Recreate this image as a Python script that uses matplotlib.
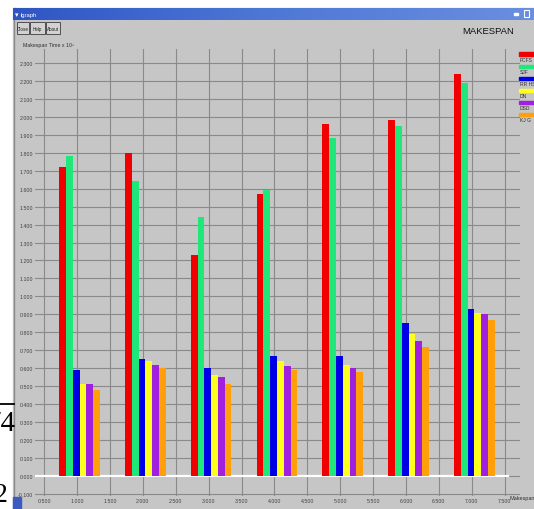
import matplotlib
matplotlib.use("Agg")
import matplotlib.pyplot as plt
from matplotlib.patches import Rectangle
import numpy as np

W, H, DPI = 534, 510, 100

# ---- data -------------------------------------------------------------
groups = [1, 2, 3, 4, 5, 6, 7]
series_names = ["FCFS", "SJF", "RR HS", "DN", "DSD", "KJ G"]
series_colors = ["#f00000", "#1ee87a", "#0000e6", "#ffff1e", "#a020e0", "#ffa00a"]
fcfs = [1.72, 1.80, 1.23, 1.57, 1.96, 1.98, 2.24]
sjf = [1.78, 1.64, 1.44, 1.59, 1.88, 1.95, 2.19]
rr = [0.59, 0.65, 0.60, 0.67, 0.67, 0.85, 0.93]
dn = [0.51, 0.64, 0.56, 0.64, 0.62, 0.79, 0.91]
dsd = [0.51, 0.62, 0.55, 0.61, 0.60, 0.75, 0.90]
kjg = [0.48, 0.60, 0.51, 0.59, 0.58, 0.72, 0.87]
series_values = [fcfs, sjf, rr, dn, dsd, kjg]

y_ticks = [-0.1, 0.0, 0.1, 0.2, 0.3, 0.4, 0.5, 0.6, 0.7, 0.8, 0.9, 1.0, 1.1,
           1.2, 1.3, 1.4, 1.5, 1.6, 1.7, 1.8, 1.9, 2.0, 2.1, 2.2, 2.3]
x_ticks = [0.5, 1.0, 1.5, 2.0, 2.5, 3.0, 3.5, 4.0, 4.5, 5.0, 5.5, 6.0, 6.5, 7.0, 7.5]

title = "MAKESPAN"
y_label = "Makespan Time x 10\u00b3"
x_label = "Makespan"
buttons = ["Close", "Help", "About"]

NARROW = ["Liberation Sans Narrow", "Liberation Sans", "DejaVu Sans"]
GRAY = "#c6c6c6"

fig = plt.figure(figsize=(W / DPI, H / DPI), dpi=DPI)

# ---- window chrome, drawn in pixel coordinates ------------------------
bg = fig.add_axes([0, 0, 1, 1])
bg.set_xlim(0, W)
bg.set_ylim(H, 0)
bg.axis("off")
bg.add_patch(Rectangle((0, 0), W, H, color="white", zorder=0))
bg.add_patch(Rectangle((13, 9), W - 13, H - 9, color=GRAY, zorder=1))
bg.plot([13.5, 13.5], [9, H], color="#8a8a8a", lw=1.0, zorder=2)

# title bar with a light gradient
grad = np.linspace(0, 1, 256).reshape(1, -1)
bar_cmap = matplotlib.colors.LinearSegmentedColormap.from_list(
    "tb", ["#2f55c4", "#4f78d6", "#6a8fe0"])
bg.imshow(grad, extent=(13, W, 21, 9), aspect="auto", cmap=bar_cmap, zorder=2)
bg.text(15, 15, "\u25be", color="white", fontsize=5, va="center", zorder=3)
bg.text(21, 15, "lgraph", color="white", fontsize=4.2, va="center",
        family=NARROW, zorder=3)
bg.add_patch(Rectangle((514, 14), 4, 2, color="white", zorder=3))
bg.add_patch(Rectangle((524, 11), 5, 7, fill=False, ec="white", lw=0.8, zorder=3))

# buttons
bx = [17, 30, 46]
bw = [12, 15, 14]
for x0, w0, lab in zip(bx, bw, buttons):
    bg.add_patch(Rectangle((x0, 23), w0, 12, fc="#d2d2d2", ec="#505050",
                           lw=0.7, zorder=3))
    bg.text(x0 + w0 / 2, 29.3, lab, fontsize=3.3, ha="center", va="center",
            family=NARROW, color="#202020", zorder=4)

bg.text(23, 45.5, y_label, fontsize=3.8, va="center", family=NARROW,
        color="#303030", zorder=3)
bg.text(488, 31, title, fontsize=6.8, ha="center", va="center",
        family=NARROW, color="#101010", zorder=3)
bg.text(509, 499, x_label, fontsize=4, va="center", family=NARROW,
        color="#303030", zorder=3)

# legend swatches at the right edge
for i, (name, col) in enumerate(zip(series_names, series_colors)):
    yy = 55 + i * 12.1
    bg.add_patch(Rectangle((519, yy - 1.6), 16, 3.4, color=col, zorder=3))
    bg.text(519.5, yy + 5.3, name, fontsize=3.6, va="center", family=NARROW,
            color="#303030", zorder=3)

# taskbar corner
bg.add_patch(Rectangle((13, 498), 8, 12, color="#3a5cc0", zorder=3))

# surrounding page text
bg.text(15, 431, "74", fontsize=21, ha="right", va="baseline",
        family=["Liberation Serif", "DejaVu Serif"], color="black", zorder=5,
        clip_on=True)
bg.plot([0, 13.5], [404.5, 404.5], color="black", lw=1.3, zorder=5)
bg.text(8, 502, "2", fontsize=20, ha="right", va="baseline",
        family=["Liberation Serif", "DejaVu Serif"], color="black", zorder=5)

# ---- the chart ---------------------------------------------------------
x_one_px, px_per_x = 77.0, 65.8
y_zero_px, px_per_y = 477.0, 179.6
left_px, right_px, top_px, bottom_px = 35, 520, 50, 497

ax = fig.add_axes([left_px / W, (H - bottom_px) / H,
                   (right_px - left_px) / W, (bottom_px - top_px) / H])
ax.set_facecolor("none")
ax.set_xlim(1 + (left_px - x_one_px) / px_per_x, 1 + (right_px - x_one_px) / px_per_x)
ax.set_ylim(-(bottom_px - y_zero_px) / px_per_y, (y_zero_px - top_px) / px_per_y)
for s in ax.spines.values():
    s.set_visible(False)

for yv in y_ticks:
    ax.axhline(yv, color="#8a8a8a", lw=0.8, zorder=1)
for xv in x_ticks:
    ax.axvline(xv, color="#8a8a8a", lw=0.8, zorder=1)
ax.axhline(0.0, xmax=(508 - left_px) / (right_px - left_px),
           color="white", lw=1.6, zorder=2)

bar_w = 0.103
start = -0.27
for i, (vals, col) in enumerate(zip(series_values, series_colors)):
    xs = [g + start + i * bar_w for g in groups]
    ax.bar(xs, vals, width=bar_w, align="edge", color=col, lw=0, zorder=3)

ax.set_yticks(y_ticks)
ax.set_yticklabels([f"{v:.3f}" for v in y_ticks])
ax.set_xticks(x_ticks)
ax.set_xticklabels([f"{v:.3f}" for v in x_ticks])
ax.tick_params(axis="both", length=0, pad=1.5, labelsize=3.8, labelcolor="#404040")
for lab in ax.get_xticklabels() + ax.get_yticklabels():
    lab.set_family(NARROW)

fig.savefig("out.png", dpi=DPI)
